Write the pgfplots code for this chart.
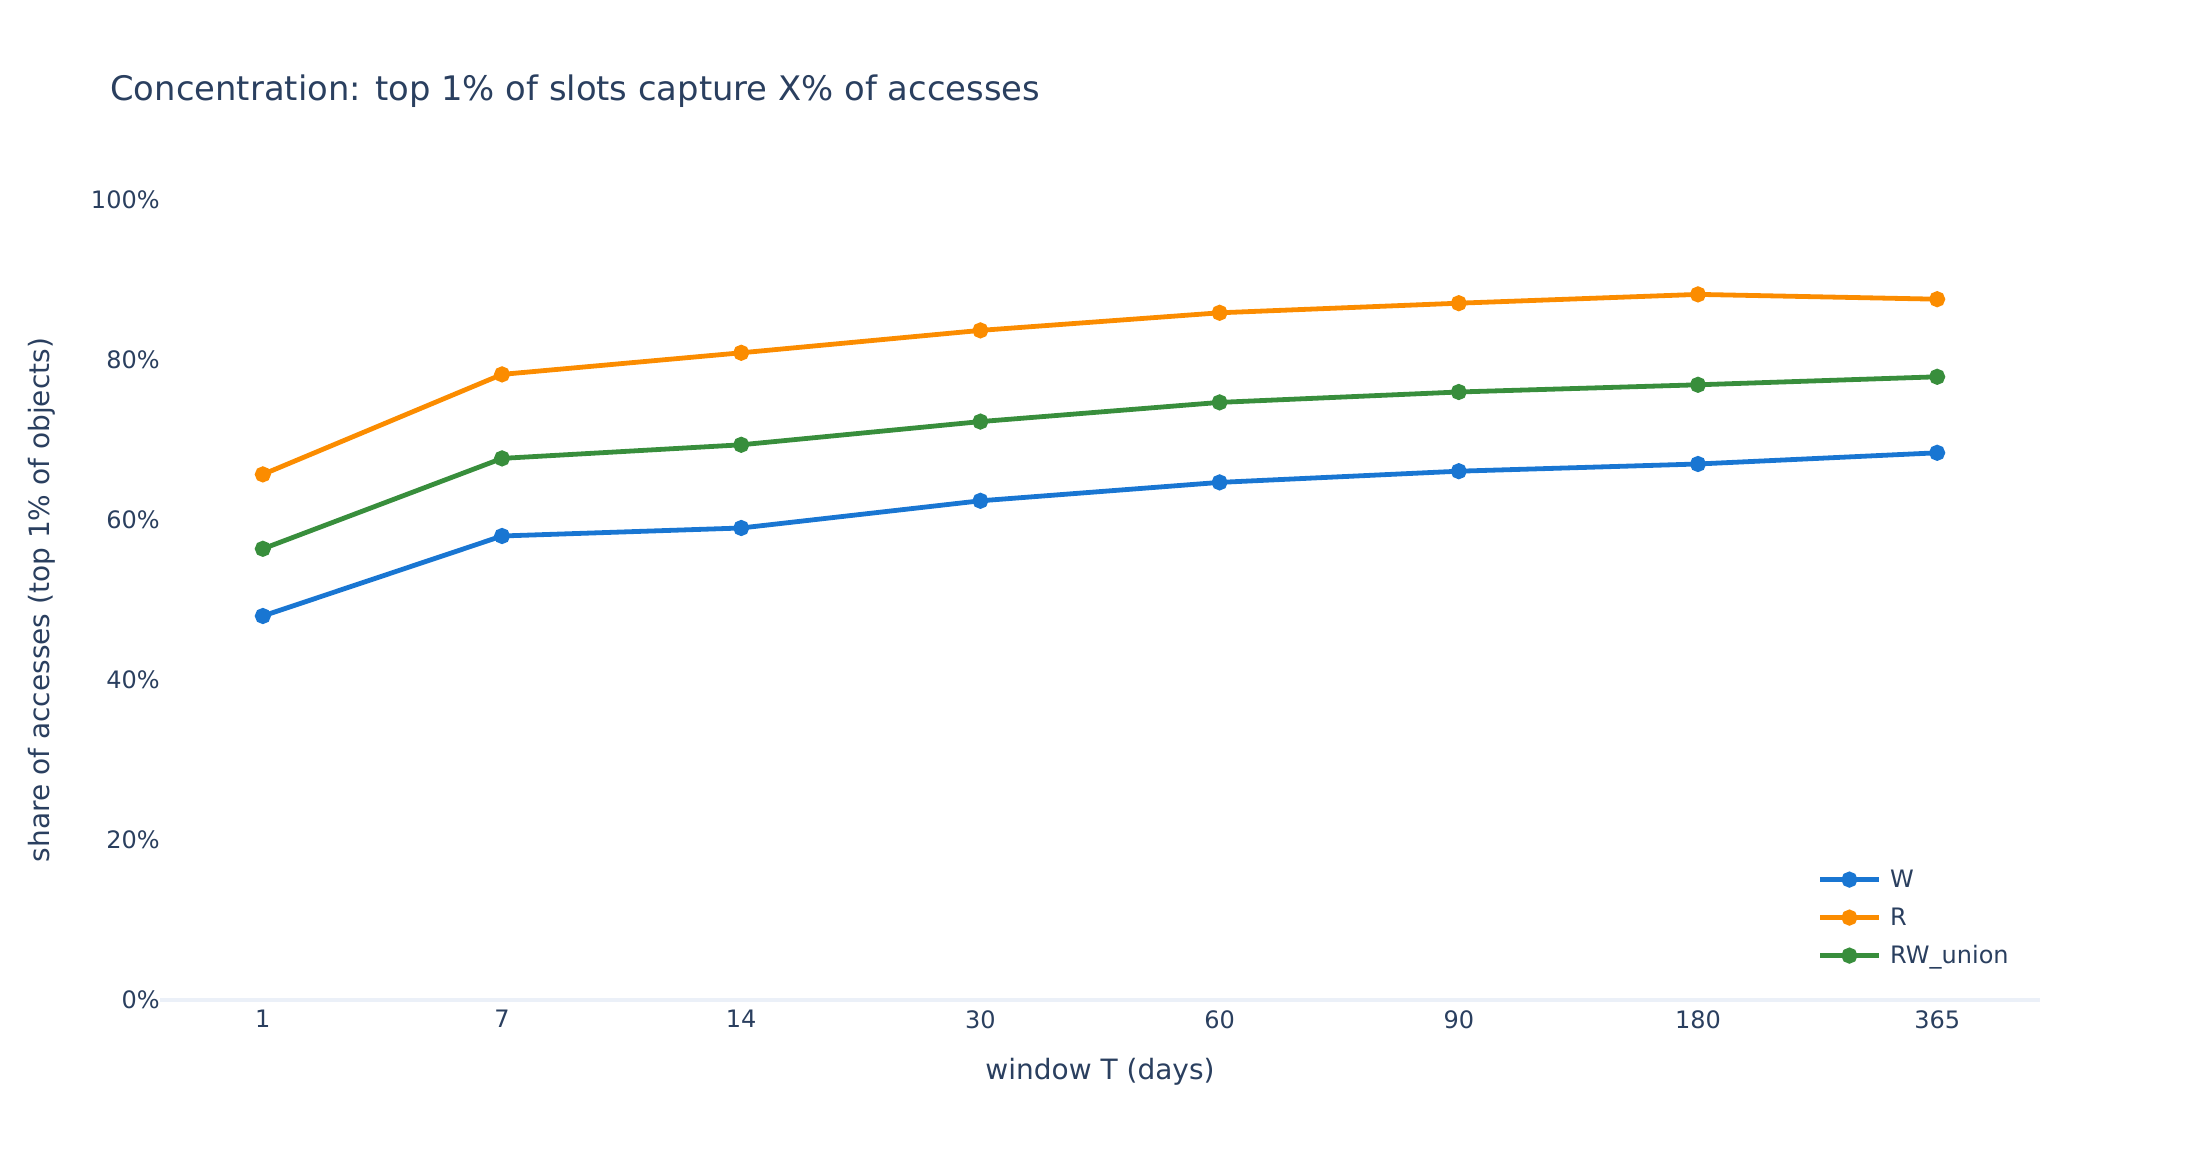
\documentclass[border=0pt]{standalone}
\usepackage{fontspec}
\setmainfont{DejaVu Sans}
\usepackage{pgfplots}
\pgfplotsset{compat=1.18}
\definecolor{txt}{HTML}{2A3F5F}
\definecolor{cW}{HTML}{1976D2}
\definecolor{cR}{HTML}{FB8C00}
\definecolor{cG}{HTML}{388E3C}
\definecolor{zl}{HTML}{EBF0F8}
\begin{document}
\begin{tikzpicture}
\useasboundingbox (-80bp,-80bp) rectangle (1020bp,500bp);
\begin{axis}[
  at={(0,0)}, anchor=south west,
  scale only axis, width=940bp, height=400bp,
  xmin=-0.43, xmax=7.43, ymin=0, ymax=100,
  axis line style={draw=none}, tick style={draw=none},
  xtick={0,...,7}, xticklabels={1,7,14,30,60,90,180,365},
  ytick={0,20,...,100}, yticklabels={0\%,20\%,40\%,60\%,80\%,100\%},
  ticklabel style={font=\fontsize{12bp}{14bp}\selectfont, text=txt},
  yticklabel style={anchor=east, inner sep=0pt, xshift=0bp},
  xticklabel style={anchor=north, inner sep=0pt, yshift=-5bp},
  extra y ticks={0}, extra y tick labels={},
  extra y tick style={grid=major, major grid style={zl, line width=2bp}},
  xlabel={window T (days)},
  ylabel={share of accesses (top 1\% of objects)},
  label style={font=\fontsize{14bp}{17bp}\selectfont, text=txt},
  xlabel style={at={(axis description cs:0.5,-0.09)}, anchor=center},
  ylabel style={at={(axis description cs:-0.0628,0.5)}, anchor=center},
  clip=false,
  every axis plot/.append style={line width=2.4bp, mark=*, mark size=2.8bp},
  legend cell align=left,
  legend style={at={(axis description cs:0.8815,0.103)}, anchor=west,
    draw=none, fill=none, inner sep=0pt, row sep=7bp, column sep=4.5bp,
    font=\fontsize{12bp}{14bp}\selectfont, text=txt,
    nodes={inner sep=0pt, text height=10bp, text depth=2bp}},
  legend image code/.code={\draw[mark repeat=2, mark phase=2, #1] plot coordinates {(0bp,0bp) (14.7bp,0bp) (29.4bp,0bp)};},
]
\addplot[color=cW, mark options={fill=cW, draw=none, solid}] coordinates {
 (0,48.0) (1,58.0) (2,59.0) (3,62.4) (4,64.7) (5,66.1) (6,67.0) (7,68.4)};
\addlegendentry{W}
\addplot[color=cR, mark options={fill=cR, draw=none, solid}] coordinates {
 (0,65.7) (1,78.2) (2,80.9) (3,83.7) (4,85.9) (5,87.1) (6,88.2) (7,87.6)};
\addlegendentry{R}
\addplot[color=cG, mark options={fill=cG, draw=none, solid}] coordinates {
 (0,56.4) (1,67.7) (2,69.4) (3,72.3) (4,74.7) (5,76.0) (6,76.9) (7,77.9)};
\addlegendentry{RW\_union}
\end{axis}
\node[anchor=west, inner sep=0pt, font=\fontsize{16.9bp}{20bp}\selectfont, text=txt] at (-25bp,454.5bp) {Concentration: top 1\% of slots capture X\% of accesses};
\end{tikzpicture}
\end{document}
